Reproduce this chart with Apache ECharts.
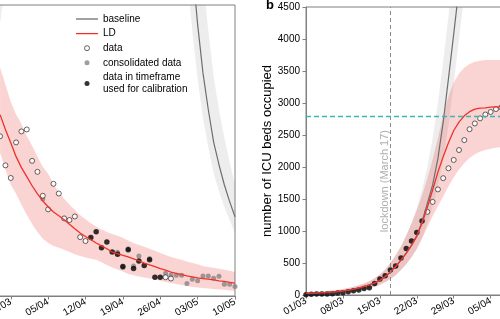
<!DOCTYPE html>
<html><head><meta charset="utf-8">
<script src="https://cdn.jsdelivr.net/npm/echarts@6/dist/echarts.min.js"></script>
<style>html,body{margin:0;padding:0;background:#fff}#c{width:500px;height:319px}</style>
</head><body><div id="c"></div>
<script>
// ---------- shared tick labels (days counted from 01/03) ----------
const tickDays   = [0, 7, 14, 21, 28, 35, 42, 49, 56, 63, 70];
const tickLabels = ['01/03','08/03','15/03','22/03','29/03','05/04','12/04','19/04','26/04','03/05','10/05'];
const yTicksRight = [0,500,1000,1500,2000,2500,3000,3500,4000,4500];

// ---------- panel a (left, partly cropped) ----------
const aDataDays = [26,27,28,29,30,31,32,33,34,35,36,37,38,39,40,41,42,57,58];
const aDataVals = [2470,2020,1825,2375,2545,2575,2090,1920,1550,1340,1735,1585,1200,1175,1230,910,850,290,270];
const aCalibDays = [43,44,45,46,47,48,49,50,51,52,53,54,55,56];
const aCalibVals = [905,995,745,835,680,645,455,715,425,540,470,560,290,290];
const aConsDays = [34,48,49,50,51,52,54,57,58,59,60,61,62,63,64,65,66,67,68,69,70];
const aConsVals = [1500,675,440,730,465,620,580,350,320,320,320,195,260,235,310,310,275,305,180,180,145];
const aLDDays = [26,27,28,29,30,31,32,33,34,35,36,37,38,39,40,41,42,43,44,45,46,47,48,49,50,51,52,53,54,55,56,57,58,59,60,61,62,63,64,65,66,67,68,69,70];
const aLD      = [2805,2575,2370,2155,1985,1845,1705,1580,1470,1380,1300,1240,1180,1110,1040,975,920,870,820,775,730,680,655,630,605,575,545,510,480,455,425,400,370,350,330,310,295,280,270,260,250,235,225,210,200];
const aLDUpper = [3535,3270,3005,2805,2665,2480,2325,2155,2000,1890,1735,1610,1505,1410,1335,1250,1185,1125,1070,1030,990,960,930,900,860,820,790,760,730,700,665,635,605,580,560,535,510,490,465,450,435,420,405,390,370];
const aLDLower = [2215,1955,1720,1580,1410,1255,1115,990,885,820,775,745,715,680,645,620,595,575,560,520,480,440,410,380,340,320,300,285,270,255,235,215,200,185,170,155,140,130,125,115,110,100,95,85,80];
const aBaseEarlyDays  = [24,25,26,27];
const aBaseEarly      = [4000,4700,5500,6400];
const aBaseEarlyUpper = [5600,6500,7600,8800];
const aBaseEarlyLower = [3100,3650,4230,4800];
const aBaseLateDays  = [60,61,62,63,64,65,66,67,68,69,70];
const aBaseLate      = [7600,6250,5120,4200,3450,2880,2380,2030,1720,1460,1225];
const aBaseLateUpper = [10800,8900,7300,5950,4900,4100,3400,2880,2450,2070,1720];
const aBaseLateLower = [6100,5000,4100,3350,2750,2300,1900,1620,1380,1170,980];

// ---------- panel b (right) ----------
const bCalibDays = [0,1,2,3,4,5,6,7,8,9,10,11,12,13,14,15,16,17,18,19,20,21,22];
const bCalibVals = [5,10,15,15,15,20,30,35,50,65,80,100,115,180,250,300,390,455,580,725,845,975,1155];
const bDataDays = [23,24,25,26,27,28,29,30,31,32,33,34,35,36,37];
const bDataVals = [1300,1455,1650,1825,1980,2110,2265,2420,2590,2680,2760,2820,2860,2905,2930];
const bLDDays = [0,1,2,3,4,5,6,7,8,9,10,11,12,13,14,15,16,17,18,19,20,21,22,23,24,25,26,27,28,29,30,31,32,33,34,35,36,37];
const bLD      = [25,30,33,37,42,48,55,65,77,92,110,133,160,190,225,285,360,445,545,655,775,920,1120,1370,1640,1920,2160,2380,2570,2700,2800,2865,2905,2920,2925,2935,2940,2940];
const bLDUpper = [40,45,50,55,62,70,80,92,108,128,152,180,215,260,320,400,500,620,760,930,1120,1330,1560,1820,2120,2450,2800,3100,3320,3460,3550,3610,3645,3660,3670,3670,3670,3670];
const bLDLower = [15,18,20,23,26,30,35,42,50,60,72,88,107,130,160,200,250,310,390,480,590,720,880,1060,1230,1390,1540,1700,1840,1960,2060,2140,2200,2240,2265,2285,2300,2310];
const bBaseDays = [0,1,2,3,4,5,6,7,8,9,10,11,12,13,14,15,16,17,18,19,20,21,22,23,24,25,26,27,28,29,30];
const bBase      = [25,30,33,37,42,48,55,65,77,92,110,133,160,190,225,285,360,445,545,655,775,925,1150,1430,1720,2130,2700,3380,4080,4800,5600];
const bBaseUpper = [40,45,50,55,62,70,80,92,108,128,152,180,215,260,320,400,500,620,760,930,1120,1350,1650,2000,2450,3000,3650,4350,5100,5900,6700];
const bBaseLower = [15,18,20,23,26,30,35,42,50,60,72,88,107,130,160,200,250,310,390,480,590,720,900,1120,1380,1700,2120,2650,3300,4000,4700];
const lockdownDay = 16;      // March 17
const icuCapacity = 2800;
const lockdownText = 'lockdown (March 17)';

const legendNames = ['baseline','LD','data','consolidated data','calibration'];
const legendTexts = ['baseline','LD','data','consolidated data','data in timeframe\nused for calibration'];

// ---------- styles ----------
const FONT = 'Liberation Sans, Arial, sans-serif';
const AXIS = '#808080';
const RED = '#f0302a';
const GREYLINE = '#6e6e6e';
const PINK = 'rgba(232,40,30,0.2)';
const GREYBAND = 'rgba(128,128,128,0.14)';
const LINEICON = 'path://M0,0 L22,0 L22,1.3 L0,1.3 Z';

const zip = (xs, ys) => xs.map((x, i) => [x, ys[i]]);

function band(name, idx, days, lower, upper, color) {
  return {
    type: 'custom', name: name, xAxisIndex: idx, yAxisIndex: idx,
    clip: true, silent: true, data: [[days[0], lower[0]]],
    renderItem: function (params, api) {
      const pts = [];
      for (let i = 0; i < days.length; i++) pts.push(api.coord([days[i], upper[i]]));
      for (let i = days.length - 1; i >= 0; i--) pts.push(api.coord([days[i], lower[i]]));
      return { type: 'polygon', shape: { points: pts }, style: { fill: color } };
    }
  };
}
function line(name, idx, days, vals, color, w) {
  return { type: 'line', name: name, xAxisIndex: idx, yAxisIndex: idx, data: zip(days, vals),
    symbol: 'none', showSymbol: false, clip: true, lineStyle: { color: color, width: w }, itemStyle: { color: color } };
}
function dots(name, idx, days, vals, style, size) {
  return { type: 'scatter', name: name, xAxisIndex: idx, yAxisIndex: idx, data: zip(days, vals),
    symbol: 'circle', symbolSize: size, itemStyle: style };
}
const hollow = { color: '#ffffff', borderColor: '#111', borderWidth: 0.8 };
const black = { color: '#000' };
const grey = { color: '#858585' };

function xAxisOf(idx, min, max) {
  return {
    type: 'value', gridIndex: idx, min: min, max: max, interval: 7,
    axisLine: { show: true, onZero: false, lineStyle: { color: AXIS, width: 1 } },
    axisTick: { show: true, inside: false, length: 3.5, lineStyle: { color: AXIS } },
    splitLine: { show: false },
    axisLabel: { rotate: 30, fontSize: 10, color: '#000', fontFamily: FONT, margin: 5,
      showMinLabel: true, showMaxLabel: true,
      formatter: v => { const i = tickDays.indexOf(v); return i >= 0 ? tickLabels[i] : ''; } }
  };
}

const chart = echarts.init(document.getElementById('c'), null, { renderer: 'canvas' });
const option = {
  animation: false,
  backgroundColor: '#fff',
  grid: [
    { left: -64, right: 265, top: 5, bottom: 23, show: true, borderColor: AXIS, borderWidth: 1, containLabel: false, outerBoundsMode: 'none' },
    { left: 306, right: -27.6, top: 7, bottom: 24, show: true, borderColor: AXIS, borderWidth: 1, containLabel: false, outerBoundsMode: 'none' }
  ],
  xAxis: [ xAxisOf(0, 14, 70), xAxisOf(1, 0, 42) ],
  yAxis: [
    { type: 'value', gridIndex: 0, min: 0, max: 4500, interval: 500,
      axisLine: { show: true, lineStyle: { color: AXIS } }, axisTick: { show: true, lineStyle: { color: AXIS } },
      splitLine: { show: false }, axisLabel: { show: false } },
    { type: 'value', gridIndex: 1, min: 0, max: 4500, interval: 500,
      axisLine: { show: true, lineStyle: { color: AXIS } },
      axisTick: { show: true, inside: false, length: 3.5, lineStyle: { color: AXIS } },
      splitLine: { show: false },
      axisLabel: { fontSize: 10, color: '#000', fontFamily: FONT, margin: 6,
        formatter: v => (yTicksRight.indexOf(v) >= 0 ? String(v) : '') },
      name: 'number of ICU beds occupied', nameLocation: 'middle', nameGap: 26, nameRotate: 90,
      nameTextStyle: { fontSize: 13, color: '#000', fontFamily: FONT } }
  ],
  legend: {
    left: 76, top: 13, padding: 0, orient: 'vertical', itemWidth: 22, itemHeight: 5, itemGap: 2.6,
    selectedMode: false,
    textStyle: { fontSize: 10, color: '#000', fontFamily: FONT, lineHeight: 12 },
    data: [
      { name: legendNames[0], icon: LINEICON, itemStyle: { color: GREYLINE, borderWidth: 0 } },
      { name: legendNames[1], icon: LINEICON, itemStyle: { color: RED, borderWidth: 0 } },
      { name: legendNames[2], icon: 'circle', itemStyle: { color: '#fff', borderColor: '#111', borderWidth: 0.8 } },
      { name: legendNames[3], icon: 'circle', itemStyle: { color: '#858585', borderWidth: 0 } },
      { name: legendNames[4], icon: 'circle', itemStyle: { color: '#000', borderWidth: 0 } }
    ],
    formatter: n => legendTexts[legendNames.indexOf(n)]
  },
  graphic: [
    { type: 'text', x: 266, y: -1, style: { text: 'b', font: 'bold 13px ' + FONT, fill: '#000', textVerticalAlign: 'top' } }
  ],
  series: [
    // panel a
    band('baseline band', 0, aBaseEarlyDays, aBaseEarlyLower, aBaseEarlyUpper, GREYBAND),
    band('baseline band', 0, aBaseLateDays, aBaseLateLower, aBaseLateUpper, GREYBAND),
    band('LD band', 0, aLDDays, aLDLower, aLDUpper, PINK),
    line('baseline', 0, aBaseEarlyDays, aBaseEarly, GREYLINE, 1.2),
    line('baseline', 0, aBaseLateDays, aBaseLate, GREYLINE, 1.2),
    line('LD', 0, aLDDays, aLD, RED, 1.3),
    dots('consolidated data', 0, aConsDays, aConsVals, grey, 5),
    dots('data', 0, aDataDays, aDataVals, hollow, 5),
    dots('calibration', 0, aCalibDays, aCalibVals, black, 5.5),
    // panel b
    band('baseline band', 1, bBaseDays, bBaseLower, bBaseUpper, GREYBAND),
    band('LD band', 1, bLDDays, bLDLower, bLDUpper, PINK),
    line('baseline', 1, bBaseDays, bBase, GREYLINE, 1.2),
    Object.assign(line('LD', 1, bLDDays, bLD, RED, 1.3), {
      markLine: { silent: true, symbol: ['none', 'none'], animation: false, label: { show: false },
        data: [
          { xAxis: lockdownDay, lineStyle: { color: '#8a8a8a', type: [4, 3], width: 1 } },
          { yAxis: icuCapacity, lineStyle: { color: '#3bb7b0', type: [5, 3], width: 1.3 } }
        ] }
    }),
    dots('data', 1, bDataDays, bDataVals, hollow, 5),
    dots('calibration', 1, bCalibDays, bCalibVals, black, 5.5),
    { type: 'scatter', name: 'note', xAxisIndex: 1, yAxisIndex: 1, silent: true,
      data: [[lockdownDay - 1, 1780]], symbolSize: 0.5, itemStyle: { color: 'rgba(255,255,255,0)' },
      label: { show: true, position: 'inside', rotate: 90, formatter: lockdownText,
        fontSize: 11, color: '#9a9a9a', fontFamily: FONT } }
  ]
};
chart.setOption(option);
</script></body></html>
